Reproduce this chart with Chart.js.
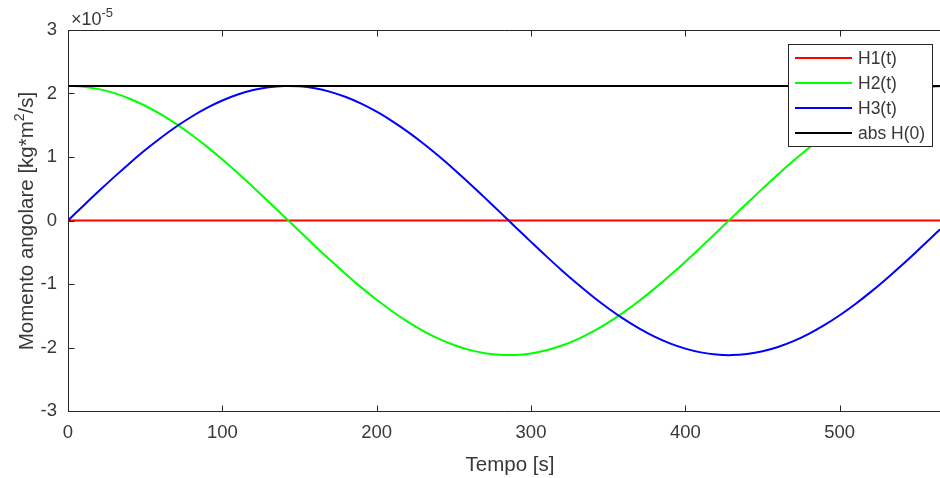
<!DOCTYPE html>
<html>
<head>
<meta charset="utf-8">
<script src="https://cdn.jsdelivr.net/npm/chart.js@4.4.1/dist/chart.umd.min.js"></script>
<style>
html,body{margin:0;padding:0;background:#fff;}
canvas{display:block;}
</style>
</head>
<body>
<canvas id="c" width="940" height="478"></canvas>
<script>
// Time samples [s]
const tempo = [0,10,20,30,40,50,60,70,80,90,100,110,120,130,140,150,160,170,180,190,200,210,220,230,240,250,260,270,280,290,300,310,320,330,340,350,360,370,380,390,400,410,420,430,440,450,460,470,480,490,500,510,520,530,540,550,560,565];
// Angular momentum components, in units of 1e-5 kg*m^2/s
const h1 = [0,0,0,0,0,0,0,0,0,0,0,0,0,0,0,0,0,0,0,0,0,0,0,0,0,0,0,0,0,0,0,0,0,0,0,0,0,0,0,0,0,0,0,0,0,0,0,0,0,0,0,0,0,0,0,0,0,0];
const h2 = [2.120,2.107,2.069,2.006,1.918,1.807,1.674,1.522,1.350,1.163,0.961,0.748,0.525,0.296,0.064,-0.169,-0.400,-0.626,-0.845,-1.053,-1.249,-1.429,-1.593,-1.737,-1.860,-1.960,-2.037,-2.089,-2.116,-2.117,-2.093,-2.043,-1.969,-1.871,-1.750,-1.608,-1.446,-1.268,-1.073,-0.866,-0.649,-0.423,-0.192,0.041,0.273,0.502,0.726,0.940,1.143,1.333,1.506,1.660,1.795,1.908,1.998,2.064,2.104,2.115];
const h3 = [0,0.233,0.463,0.687,0.903,1.109,1.300,1.476,1.634,1.773,1.890,1.984,2.054,2.099,2.119,2.113,2.082,2.025,1.944,1.840,1.713,1.566,1.399,1.216,1.018,0.807,0.587,0.360,0.128,-0.105,-0.337,-0.565,-0.786,-0.997,-1.197,-1.382,-1.550,-1.699,-1.828,-1.935,-2.018,-2.077,-2.111,-2.120,-2.102,-2.060,-1.992,-1.900,-1.785,-1.649,-1.492,-1.318,-1.128,-0.924,-0.709,-0.485,-0.256,-0.140];
const absH0 = [2.12,2.12,2.12,2.12,2.12,2.12,2.12,2.12,2.12,2.12,2.12,2.12,2.12,2.12,2.12,2.12,2.12,2.12,2.12,2.12,2.12,2.12,2.12,2.12,2.12,2.12,2.12,2.12,2.12,2.12,2.12,2.12,2.12,2.12,2.12,2.12,2.12,2.12,2.12,2.12,2.12,2.12,2.12,2.12,2.12,2.12,2.12,2.12,2.12,2.12,2.12,2.12,2.12,2.12,2.12,2.12,2.12,2.12];
const seriesNames = ['H1(t)','H2(t)','H3(t)','abs H(0)'];
const seriesColors = ['#ff0000','#00ff00','#0000ff','#000000'];
const xTicks = [0,100,200,300,400,500];
const yTicks = [-3,-2,-1,0,1,2,3];
const xTitle = 'Tempo [s]';
const yTitleParts = ['Momento angolare [kg*m','2','/s]'];
const exponentParts = ['\u00d710','-5'];

const FONT = '"Liberation Sans", Arial, sans-serif';
const AXC = '#262626';
const TXC = '#383838';

function pts(ys){ return tempo.map((t,i)=>({x:t,y:ys[i]})); }
const allSeries = [h1,h2,h3,absH0];

const decor = {
  id:'decor',
  afterDraw(chart){
    const ctx = chart.ctx;
    const a = chart.chartArea;
    const xs = chart.scales.x, ys = chart.scales.y;
    ctx.save();
    ctx.strokeStyle = AXC;
    ctx.lineWidth = 1;
    const L = Math.round(a.left)+0.5, T = Math.round(a.top)+0.5, B = Math.round(a.bottom)+0.5, R = a.right + 2;
    ctx.beginPath();
    ctx.moveTo(L,T); ctx.lineTo(R,T);
    ctx.moveTo(L,T); ctx.lineTo(L,B);
    ctx.moveTo(L,B); ctx.lineTo(R,B);
    const tl = 6;
    xTicks.forEach(v=>{
      const px = Math.round(xs.getPixelForValue(v))+0.5;
      ctx.moveTo(px,B); ctx.lineTo(px,B-tl);
      ctx.moveTo(px,T); ctx.lineTo(px,T+tl);
    });
    yTicks.forEach(v=>{
      const py = Math.round(ys.getPixelForValue(v))+0.5;
      ctx.moveTo(L,py); ctx.lineTo(L+tl,py);
    });
    ctx.stroke();

    // exponent
    ctx.fillStyle = TXC;
    ctx.textBaseline = 'alphabetic';
    ctx.textAlign = 'left';
    ctx.font = '18px ' + FONT;
    ctx.fillText(exponentParts[0], 71, 25);
    const w0 = ctx.measureText(exponentParts[0]).width;
    ctx.font = '13px ' + FONT;
    ctx.fillText(exponentParts[1], 71 + w0, 17);

    // x title
    ctx.font = '20.5px ' + FONT;
    ctx.textAlign = 'center';
    ctx.fillText(xTitle, 510, 471);

    // y title with superscript
    ctx.save();
    ctx.translate(33, 221);
    ctx.rotate(-Math.PI/2);
    ctx.textAlign = 'left';
    const fMain = '20.5px ' + FONT, fSup = '14px ' + FONT;
    ctx.font = fMain; const wa = ctx.measureText(yTitleParts[0]).width;
    ctx.font = fSup; const wb = ctx.measureText(yTitleParts[1]).width;
    ctx.font = fMain; const wc = ctx.measureText(yTitleParts[2]).width;
    let x0 = -(wa+wb+wc)/2;
    ctx.font = fMain; ctx.fillText(yTitleParts[0], x0, 0);
    ctx.font = fSup; ctx.fillText(yTitleParts[1], x0+wa, -9);
    ctx.font = fMain; ctx.fillText(yTitleParts[2], x0+wa+wb, 0);
    ctx.restore();

    // legend
    const lx = 788.5, ly = 44.5, lw = 144, lh = 102;
    ctx.fillStyle = '#ffffff';
    ctx.fillRect(lx, ly, lw, lh);
    ctx.strokeStyle = AXC;
    ctx.lineWidth = 1;
    ctx.strokeRect(lx, ly, lw, lh);
    ctx.font = '17.5px ' + FONT;
    ctx.textAlign = 'left';
    ctx.textBaseline = 'middle';
    seriesNames.forEach((n,i)=>{
      const cy = 58 + i*25;
      ctx.strokeStyle = seriesColors[i];
      ctx.lineWidth = 2;
      ctx.beginPath(); ctx.moveTo(795, cy); ctx.lineTo(852, cy); ctx.stroke();
      ctx.fillStyle = TXC;
      ctx.fillText(n, 858, cy+1);
    });
    ctx.restore();
  }
};

new Chart(document.getElementById('c'), {
  type:'line',
  data:{
    datasets: allSeries.map((s,i)=>({
      label: seriesNames[i],
      data: pts(s),
      borderColor: seriesColors[i],
      backgroundColor: seriesColors[i],
      borderWidth: 2,
      pointRadius: 0,
      tension: 0.4,
      fill: false,
      order: 3 - i
    }))
  },
  options:{
    responsive:false,
    animation:false,
    layout:{padding:{top:30,right:0,left:0,bottom:0}},
    plugins:{legend:{display:false},tooltip:{enabled:false}},
    scales:{
      x:{
        type:'linear', min:0, max:565,
        grid:{display:false, drawTicks:false},
        border:{display:false},
        ticks:{
          includeBounds:false,
          stepSize:100,
          autoSkip:false,
          maxRotation:0,
          padding:11,
          color:TXC,
          font:{family:FONT, size:18.5}
        },
        afterFit(s){ s.height = 67; }
      },
      y:{
        type:'linear', min:-3, max:3,
        grid:{display:false, drawTicks:false},
        border:{display:false},
        ticks:{
          stepSize:1,
          padding:11,
          color:TXC,
          font:{family:FONT, size:18.5}
        },
        afterFit(s){ s.width = 68; }
      }
    }
  },
  plugins:[decor]
});
</script>
</body>
</html>
